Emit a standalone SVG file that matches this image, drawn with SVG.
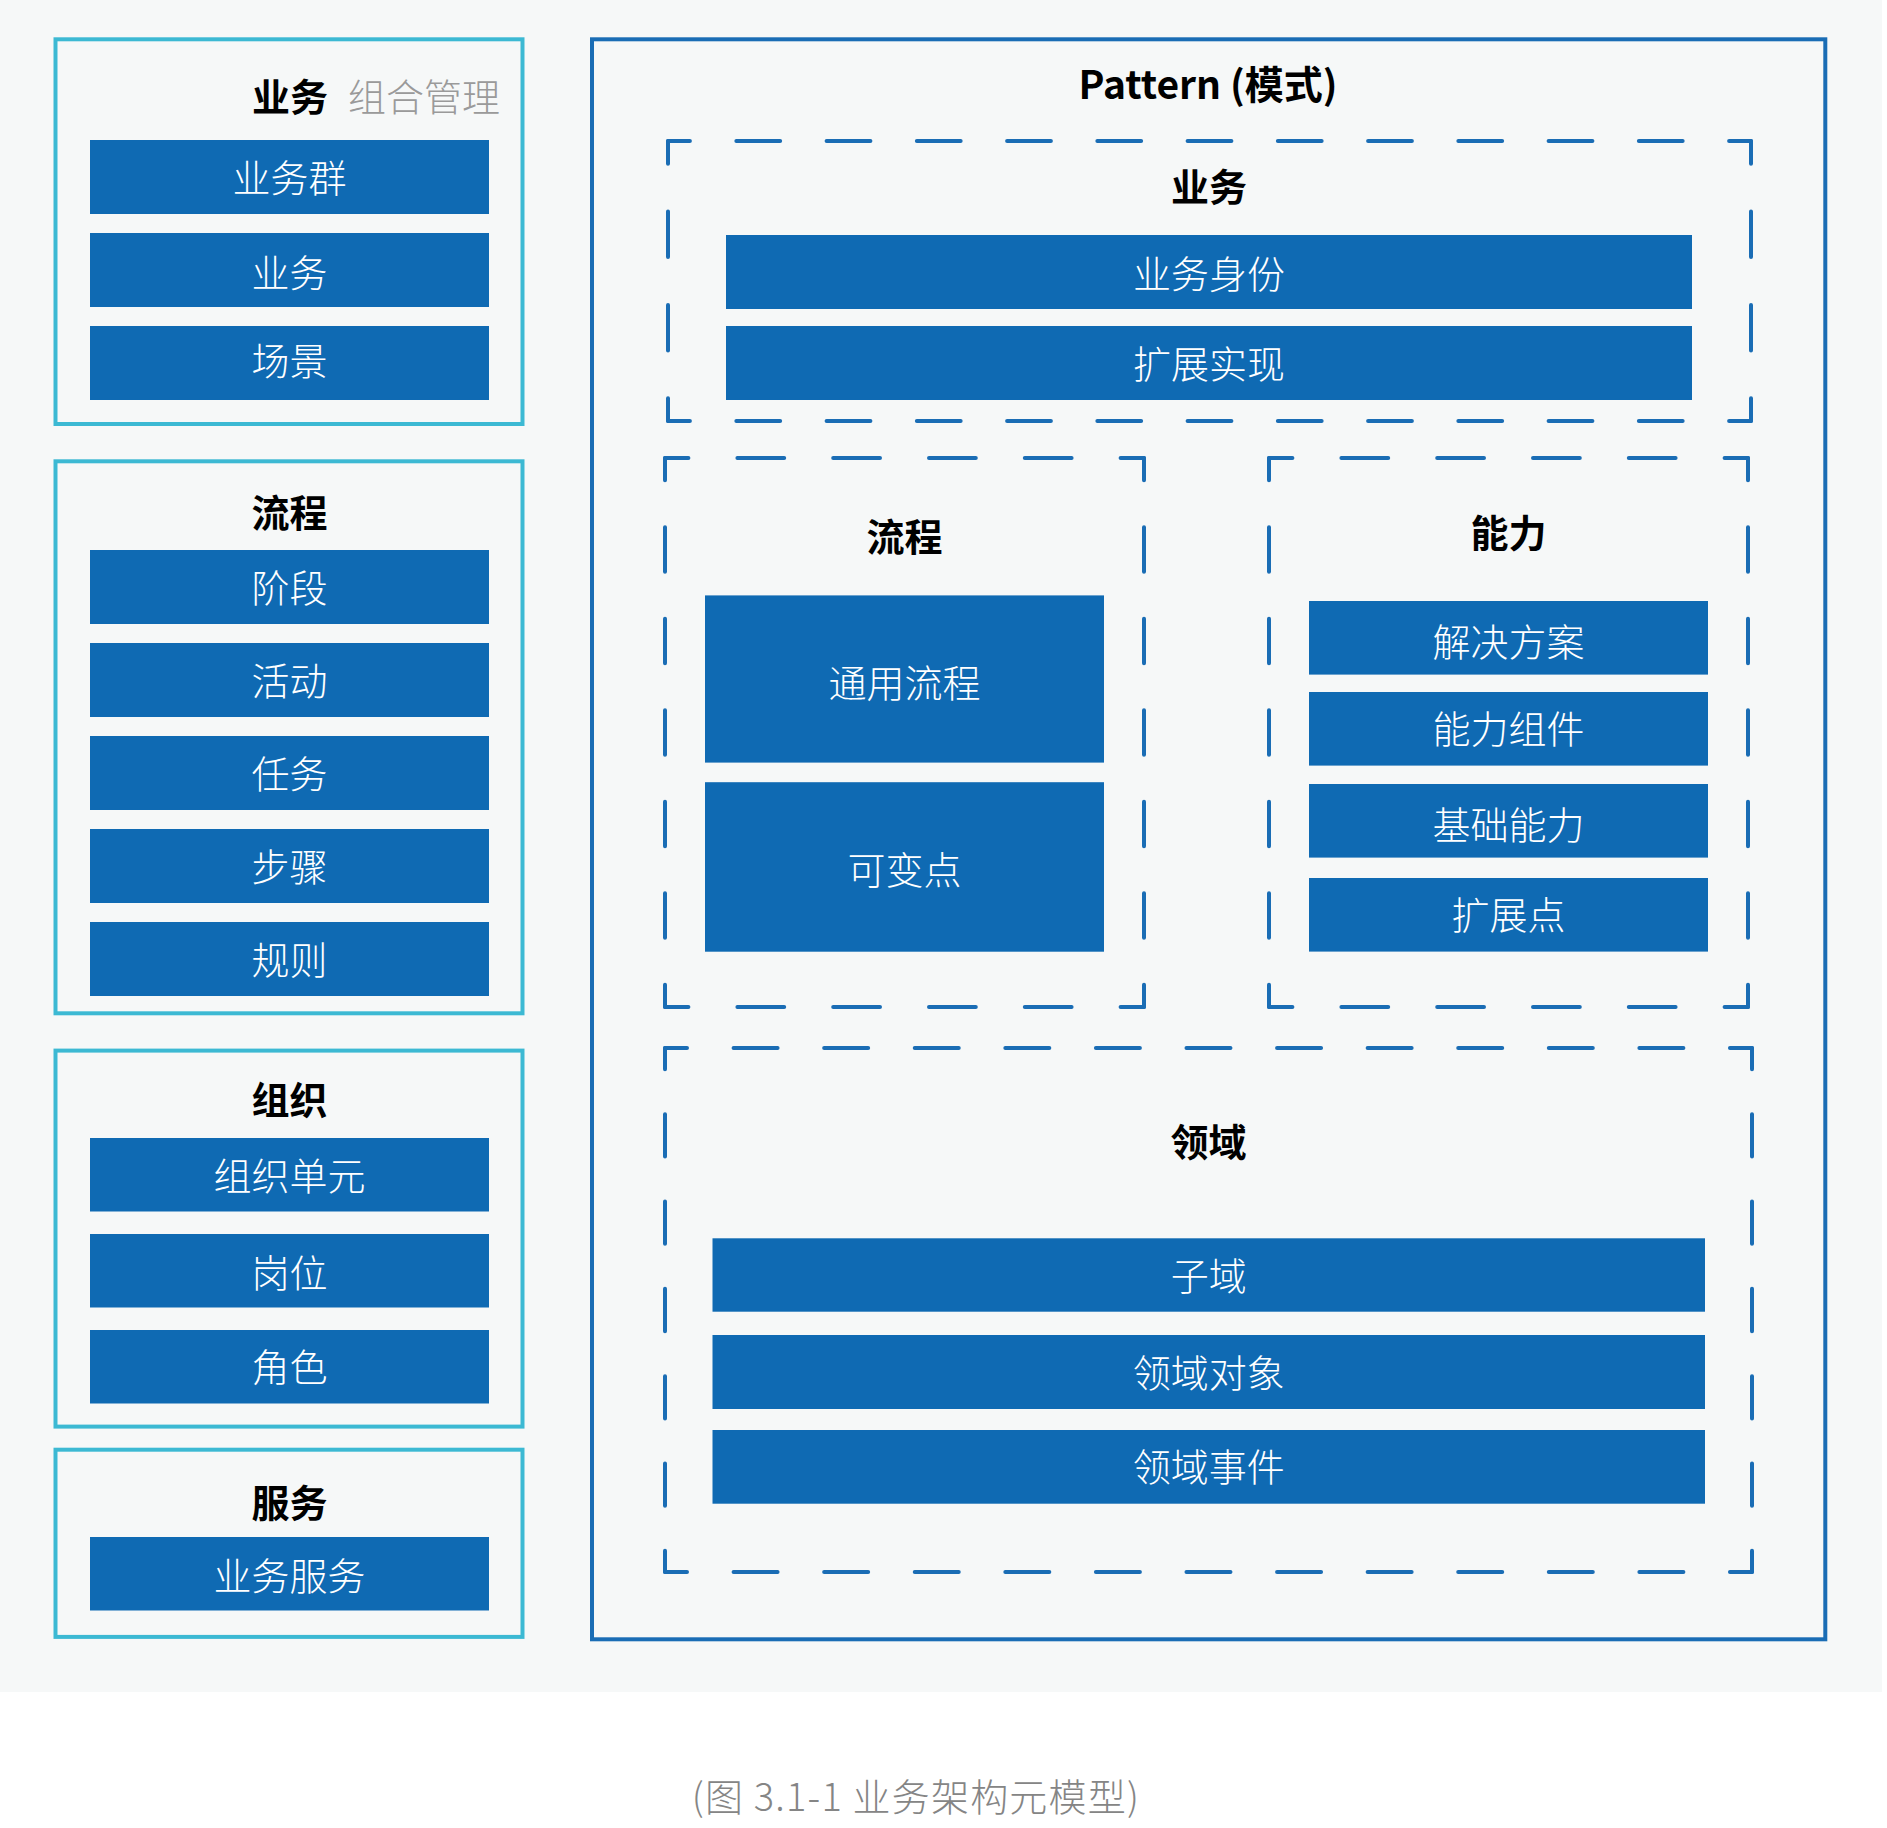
<svg xmlns="http://www.w3.org/2000/svg" width="1887" height="1828" viewBox="0 0 1887 1828">
<style>
.bg{fill:#f6f8f8}
.grp{fill:none;stroke:#3cb9d3;stroke-width:4}
.pat{fill:none;stroke:#1a6db5;stroke-width:4}
.bar{fill:#0f6ab3}
.bt{font-family:"Noto Sans CJK SC","Noto Sans",sans-serif;font-size:38px;font-weight:300;fill:#ffffff;text-anchor:middle}
.tt{font-family:"Noto Sans CJK SC","Noto Sans",sans-serif;font-size:38px;font-weight:700;fill:#000000;text-anchor:middle}
.sub{font-family:"Noto Sans CJK SC","Noto Sans",sans-serif;font-size:38px;font-weight:300;fill:#9a9a9a}
.cap{font-family:"Noto Sans CJK SC","Noto Sans",sans-serif;font-size:38px;font-weight:300;fill:#858585;text-anchor:middle;letter-spacing:1.2px}
.d{fill:none;stroke:#1a6db5;stroke-width:4;stroke-linecap:round}
</style>
<rect class="bg" x="0" y="0" width="1882" height="1692"/>

<g id="group-business">
<rect class="grp" x="55.5" y="39.3" width="467" height="384.7"/>
<text class="tt" x="252" y="110.5" style="text-anchor:start">业务</text>
<text class="sub" x="348" y="110.5">组合管理</text>
<g id="n-yewuqun"><rect class="bar" x="90" y="140" width="399" height="74"/><text class="bt" x="289.5" y="191.5">业务群</text></g>
<g id="n-yewu"><rect class="bar" x="90" y="233" width="399" height="74"/><text class="bt" x="289.5" y="287">业务</text></g>
<g id="n-changjing"><rect class="bar" x="90" y="326" width="399" height="74"/><text class="bt" x="289.5" y="375">场景</text></g>
</g>

<g id="group-process">
<rect class="grp" x="55.5" y="461.3" width="467" height="552"/>
<text class="tt" x="289.5" y="526.5">流程</text>
<g id="n-jieduan"><rect class="bar" x="90" y="550" width="399" height="74"/><text class="bt" x="289.5" y="601.5">阶段</text></g>
<g id="n-huodong"><rect class="bar" x="90" y="643" width="399" height="74"/><text class="bt" x="289.5" y="694.5">活动</text></g>
<g id="n-renwu"><rect class="bar" x="90" y="736" width="399" height="74"/><text class="bt" x="289.5" y="787.5">任务</text></g>
<g id="n-buzhou"><rect class="bar" x="90" y="829" width="399" height="74"/><text class="bt" x="289.5" y="880.5">步骤</text></g>
<g id="n-guize"><rect class="bar" x="90" y="922" width="399" height="74"/><text class="bt" x="289.5" y="973.5">规则</text></g>
</g>

<g id="group-org">
<rect class="grp" x="55.5" y="1050.6" width="467" height="376"/>
<text class="tt" x="289.5" y="1114">组织</text>
<g id="n-zuzhidanyuan"><rect class="bar" x="90" y="1138" width="399" height="73.5"/><text class="bt" x="289.5" y="1190.3">组织单元</text></g>
<g id="n-gangwei"><rect class="bar" x="90" y="1234" width="399" height="73.5"/><text class="bt" x="289.5" y="1287.3">岗位</text></g>
<g id="n-juese"><rect class="bar" x="90" y="1330" width="399" height="73.5"/><text class="bt" x="289.5" y="1381.3">角色</text></g>
</g>

<g id="group-service">
<rect class="grp" x="55.5" y="1449.7" width="467" height="187.2"/>
<text class="tt" x="289.5" y="1516.5">服务</text>
<g id="n-yewufuwu"><rect class="bar" x="90" y="1537" width="399" height="73.5"/><text class="bt" x="289.5" y="1590">业务服务</text></g>
</g>

<g id="pattern">
<rect class="pat" x="592" y="39.3" width="1233.3" height="1600"/>
<text class="tt" x="1208" y="99" style="font-size:39px">Pattern (模式)</text>

<g id="p-business">
<g class="dash">
<line class="d" x1="668" y1="141" x2="1751" y2="141" stroke-dasharray="43.8 46.45" stroke-dashoffset="21.9"/>
<line class="d" x1="668" y1="421" x2="1751" y2="421" stroke-dasharray="43.8 46.45" stroke-dashoffset="21.9"/>
<line class="d" x1="668" y1="141" x2="668" y2="421" stroke-dasharray="45.5 47.83" stroke-dashoffset="22.75"/>
<line class="d" x1="1751" y1="141" x2="1751" y2="421" stroke-dasharray="45.5 47.83" stroke-dashoffset="22.75"/>
</g>
<text class="tt" x="1209" y="201.2">业务</text>
<g id="n-yewushenfen"><rect class="bar" x="726" y="235" width="966" height="74"/><text class="bt" x="1209" y="288">业务身份</text></g>
<g id="n-kuozhanshixian"><rect class="bar" x="726" y="326" width="966" height="74"/><text class="bt" x="1209" y="377.5">扩展实现</text></g>
</g>

<g id="p-process">
<g class="dash">
<line class="d" x1="665" y1="458" x2="1144" y2="458" stroke-dasharray="46.8 49" stroke-dashoffset="23.4"/>
<line class="d" x1="665" y1="1007" x2="1144" y2="1007" stroke-dasharray="46.8 49" stroke-dashoffset="23.4"/>
<line class="d" x1="665" y1="458" x2="665" y2="1007" stroke-dasharray="44.5 47" stroke-dashoffset="22.25"/>
<line class="d" x1="1144" y1="458" x2="1144" y2="1007" stroke-dasharray="44.5 47" stroke-dashoffset="22.25"/>
</g>
<text class="tt" x="904.5" y="551">流程</text>
<g id="n-tongyongliucheng"><rect class="bar" x="705" y="595.4" width="399" height="167.2"/><text class="bt" x="904.5" y="696.5">通用流程</text></g>
<g id="n-kebiandian"><rect class="bar" x="705" y="782.2" width="399" height="169.5"/><text class="bt" x="904.5" y="883.5">可变点</text></g>
</g>

<g id="p-capability">
<g class="dash">
<line class="d" x1="1269" y1="458" x2="1748" y2="458" stroke-dasharray="46.8 49" stroke-dashoffset="23.4"/>
<line class="d" x1="1269" y1="1007" x2="1748" y2="1007" stroke-dasharray="46.8 49" stroke-dashoffset="23.4"/>
<line class="d" x1="1269" y1="458" x2="1269" y2="1007" stroke-dasharray="44.5 47" stroke-dashoffset="22.25"/>
<line class="d" x1="1748" y1="458" x2="1748" y2="1007" stroke-dasharray="44.5 47" stroke-dashoffset="22.25"/>
</g>
<text class="tt" x="1508.5" y="546.5">能力</text>
<g id="n-jiejuefangan"><rect class="bar" x="1309" y="601" width="399" height="73.6"/><text class="bt" x="1508.5" y="656">解决方案</text></g>
<g id="n-nenglizujian"><rect class="bar" x="1309" y="692" width="399" height="73.6"/><text class="bt" x="1508.5" y="743.3">能力组件</text></g>
<g id="n-jichunengli"><rect class="bar" x="1309" y="784" width="399" height="73.6"/><text class="bt" x="1508.5" y="838.5">基础能力</text></g>
<g id="n-kuozhandian"><rect class="bar" x="1309" y="878" width="399" height="73.6"/><text class="bt" x="1508.5" y="929.3">扩展点</text></g>
</g>

<g id="p-domain">
<g class="dash">
<line class="d" x1="665" y1="1048" x2="1752" y2="1048" stroke-dasharray="44 46.58" stroke-dashoffset="22"/>
<line class="d" x1="665" y1="1572" x2="1752" y2="1572" stroke-dasharray="44 46.58" stroke-dashoffset="22"/>
<line class="d" x1="665" y1="1048" x2="665" y2="1572" stroke-dasharray="42.3 45.03" stroke-dashoffset="21.15"/>
<line class="d" x1="1752" y1="1048" x2="1752" y2="1572" stroke-dasharray="42.3 45.03" stroke-dashoffset="21.15"/>
</g>
<text class="tt" x="1208.5" y="1155.5">领域</text>
<g id="n-ziyu"><rect class="bar" x="712.5" y="1238.3" width="992.5" height="73.4"/><text class="bt" x="1208.75" y="1289.5">子域</text></g>
<g id="n-lingyuduixiang"><rect class="bar" x="712.5" y="1335" width="992.5" height="74"/><text class="bt" x="1208.75" y="1386.5">领域对象</text></g>
<g id="n-lingyushijian"><rect class="bar" x="712.5" y="1430" width="992.5" height="73.7"/><text class="bt" x="1208.75" y="1481.3">领域事件</text></g>
</g>
</g>

<text id="caption" class="cap" x="916" y="1810.5">(图 3.1-1 业务架构元模型)</text>
</svg>
